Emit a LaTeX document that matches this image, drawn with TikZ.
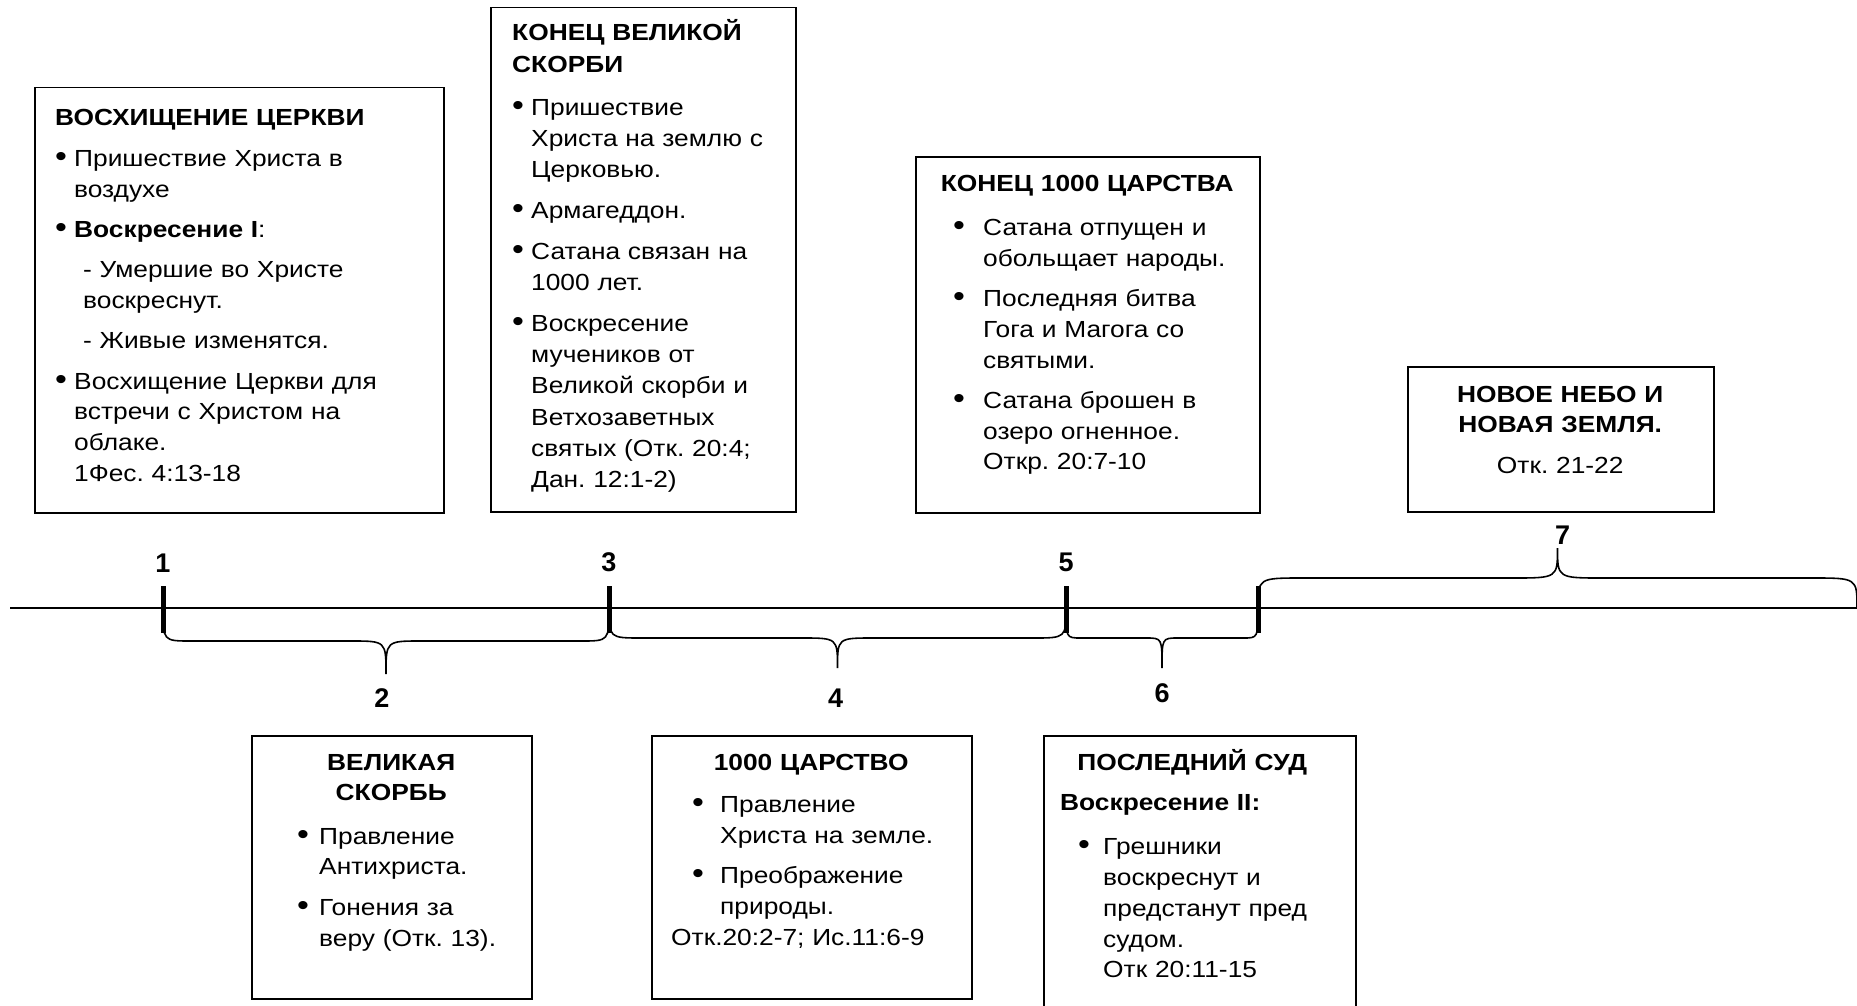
\documentclass[tikz,border=0pt]{standalone}
\usepackage{fontspec}
\setmainfont{Liberation Sans}[FakeStretch=1.13]
\newfontfamily\numfont{Liberation Sans}
\usepackage{tikz}
\usetikzlibrary{calc}
\tikzstyle{card} = [draw, line width=1.5pt, inner sep=0pt, anchor=north west]
\tikzstyle{cardtext} = [inner sep=0pt, anchor=base west, align=left,
	font=\fontsize{23.3}{30.8}\selectfont]
\tikzstyle{num} = [inner sep=0pt, font=\numfont\bfseries\fontsize{27}{30}\selectfont]
\tikzstyle{timeline} = [line width=2.5pt]
\tikzstyle{tickmark} = [line width=5pt]
\tikzstyle{bracestyle} = [line width=1.6pt]
\newlength{\bulskip}
\newlength{\bulind}
\newcommand{\cardfmt}[2]{\frenchspacing\setlength{\parskip}{9.5pt}%
	\setlength{\bulskip}{#1}\setlength{\bulind}{#2}\ignorespaces}
\newcommand{\bul}[1]{\par{\leftskip=\bulskip\relax\hangindent=\bulind\hangafter=1
	\noindent\makebox[\bulind][l]{\fontsize{30}{30}\selectfont\textbullet}#1\par}}
% фигурная скобка: от, до, глубина, радиус краёв, радиус середины
\newcommand{\drawbrace}[5]{\draw[bracestyle] let \p1=(#1), \p2=(#2), \n1={(\x1+\x2)/2} in
	(\p1) .. controls (\x1,\y1+#3) .. (\x1+#4,\y1+#3)
	-- (\n1-#5,\y1+#3) .. controls (\n1,\y1+#3) .. (\n1,\y1+2*#3)
	.. controls (\n1,\y1+#3) .. (\n1+#5,\y1+#3)
	-- (\x2-#4,\y1+#3) .. controls (\x2,\y1+#3) .. (\p2)}
\begin{document}
\begin{tikzpicture}[x=1pt, y=-1pt]
			\useasboundingbox (0,0) rectangle (1857,1006);
			
			%ось времени
			\coordinate (lstart) at (10,608);
			\coordinate (mark1) at (163,608);
			\coordinate (mark3) at (609,608);
			\coordinate (mark5) at (1066,608);
			\coordinate (mark7) at (1258,608);
			\coordinate (lend) at (1857,608);
			\draw [timeline] (lstart) -- (lend);
			
			\drawbrace{mark1}{mark3}{-33pt}{28pt}{35pt};
			\drawbrace{mark3}{mark5}{-30pt}{33pt}{36pt};
			\drawbrace{mark5}{mark7}{-30pt}{15pt}{16pt};
			\drawbrace{mark7}{lend}{30pt}{45pt}{45pt};
			
			\foreach \m in {mark1, mark3, mark5, mark7}
				\draw [tickmark] ($(\m)+(0,-22)$) -- ($(\m)+(0,25)$);
			
			\node (n1) [num] at ($(mark1)+(0,-45)$) {1};
			\node (n3) [num] at ($(mark3)+(0,-46)$) {3};
			\node (n5) [num] at ($(mark5)+(0,-46)$) {5};
			\node (n2) [num] at ($(mark1)!0.5!(mark3)+(-4,90)$) {2};
			\node (n4) [num] at ($(mark3)!0.5!(mark5)+(-2,90)$) {4};
			\node (n6) [num] at ($(mark5)!0.5!(mark7)+(0,85)$) {6};
			\node (n7) [num] at ($(mark7)!0.5!(lend)+(5,-73)$) {7};
			
			%верхние блоки
			\node (rapture) [card, minimum width=409pt, minimum height=425pt] at (34,87) {};
			\node (rapture-txt) [cardtext, text width=380pt] at ([shift={(21,39)}]rapture.north west) {\cardfmt{0pt}{19pt}
				\textbf{ВОСХИЩЕНИЕ ЦЕРКВИ}\par
				\bul{Пришествие Христа в\newline воздухе}
				\bul{\textbf{Воскресение I}:}
				{\leftskip=28pt\relax - Умершие во Христе\newline воскреснут.\par}
				{\leftskip=28pt\relax - Живые изменятся.\par}
				\bul{Восхищение Церкви для\newline встречи с Христом на\newline облаке.\newline 1Фес. 4:13-18}};
			
			\node (tribend) [card, minimum width=305pt, minimum height=504pt] at (490,7) {};
			\node (tribend-txt) [cardtext, text width=285pt, font=\fontsize{23.3}{31.3}\selectfont] at ([shift={(22,34)}]tribend.north west) {\cardfmt{0pt}{19pt}
				\textbf{КОНЕЦ ВЕЛИКОЙ\newline СКОРБИ}\par\vspace{2pt}
				\bul{Пришествие\newline Христа на землю с\newline Церковью.}
				\bul{Армагеддон.}
				\bul{Сатана связан на\newline 1000 лет.}
				\bul{Воскресение\newline мучеников от\newline Великой скорби и\newline Ветхозаветных\newline святых (Отк. 20:4;\newline Дан. 12:1-2)}};
			
			\node (milend) [card, minimum width=344pt, minimum height=356pt] at (915,156) {};
			\node (milend-txt) [cardtext, text width=324pt] at ([shift={(10,35)}]milend.north west) {\cardfmt{28pt}{30pt}
				{\centering\bfseries КОНЕЦ 1000 ЦАРСТВА\par}\vspace{4pt}
				\bul{Сатана отпущен и\newline обольщает народы.}
				\bul{Последняя битва\newline Гога и Магога со\newline святыми.}
				\bul{Сатана брошен в\newline озеро огненное.\newline Откр. 20:7-10}};
			
			\node (newearth) [card, minimum width=306pt, minimum height=145pt] at (1407,366) {};
			\node (newearth-txt) [cardtext, text width=286pt] at ([shift={(10,36)}]newearth.north west) {\cardfmt{0pt}{0pt}
				{\centering\bfseries НОВОЕ НЕБО И\\НОВАЯ ЗЕМЛЯ.\par}
				{\centering Отк. 21-22\par}};
			
			%нижние блоки
			\node (tribulation) [card, minimum width=280pt, minimum height=263pt] at (251,735) {};
			\node (tribulation-txt) [cardtext, text width=260pt] at ([shift={(10,35)}]tribulation.north west) {\cardfmt{36pt}{22pt}
				{\centering\bfseries ВЕЛИКАЯ\\СКОРБЬ\par}\vspace{3pt}
				\bul{Правление\newline Антихриста.}
				\bul{Гонения за\newline веру (Отк. 13).}};
			
			\node (millennium) [card, minimum width=320pt, minimum height=263pt] at (651,735) {};
			\node (millennium-txt) [cardtext, text width=300pt] at ([shift={(10,35)}]millennium.north west) {\cardfmt{31pt}{28pt}
				{\centering\bfseries 1000 ЦАРСТВО\par}\vspace{2pt}
				\bul{Правление\newline Христа на земле.}
				\bul{Преображение\newline природы.\newline\hspace*{-49pt}Отк.20:2-7; Ис.11:6-9}};
			
			\node (judgment) [card, minimum width=312pt, minimum height=290pt] at (1043,735) {};
			\node (judgment-txt) [cardtext, text width=278pt] at ([shift={(10,35)}]judgment.north west) {\cardfmt{25pt}{25pt}
				{\centering\bfseries ПОСЛЕДНИЙ СУД\par}
				{\leftskip=7pt\relax\textbf{Воскресение II:}\par}\vspace{4pt}
				\bul{Грешники\newline воскреснут и\newline предстанут пред\newline судом.\newline Отк 20:11-15}};
		\end{tikzpicture}
\end{document}
